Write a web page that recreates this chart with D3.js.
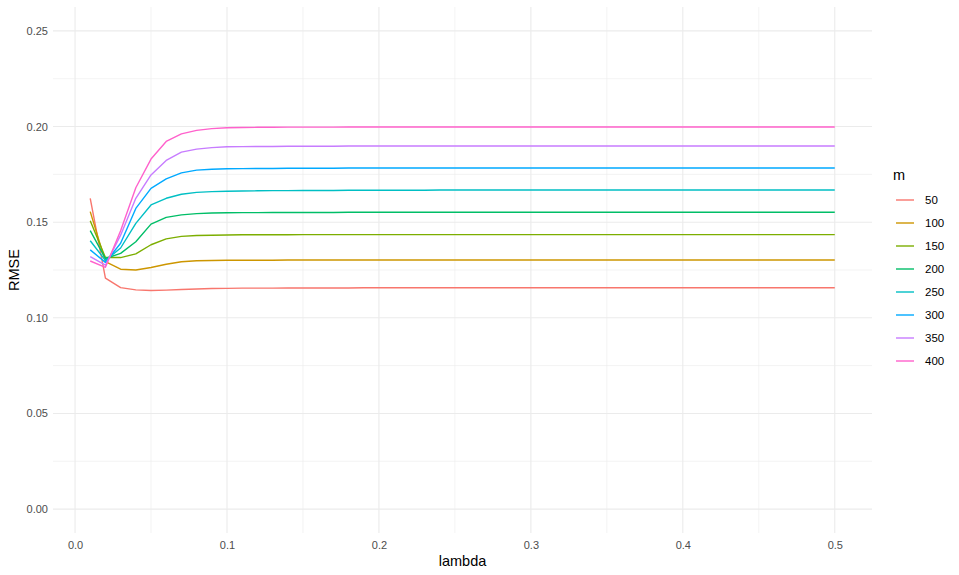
<!DOCTYPE html>
<html>
<head>
<meta charset="utf-8">
<script src="https://cdn.jsdelivr.net/npm/d3@7"></script>
<style>
  body { margin: 0; background: #fff; }
  svg { display: block; font-family: "Liberation Sans", Arial, sans-serif; }
</style>
</head>
<body>
<svg id="chart" width="959" height="575"></svg>
<script>
const lambda = [0.01,0.02,0.03,0.04,0.05,0.06,0.07,0.08,0.09,0.10,
  0.11,0.12,0.13,0.14,0.15,0.16,0.17,0.18,0.19,0.20,
  0.21,0.22,0.23,0.24,0.25,0.26,0.27,0.28,0.29,0.30,
  0.31,0.32,0.33,0.34,0.35,0.36,0.37,0.38,0.39,0.40,
  0.41,0.42,0.43,0.44,0.45,0.46,0.47,0.48,0.49,0.50];

const mLevels = ["50","100","150","200","250","300","350","400"];

const rmse50 = [0.1625,0.1208,0.1158,0.1146,0.1143,0.1145,0.1148,0.1151,0.1153,0.1154,
  0.1155,0.1155,0.1155,0.1156,0.1156,0.1156,0.1156,0.1156,0.1157,0.1157,
  0.1157,0.1157,0.1157,0.1157,0.1157,0.1157,0.1157,0.1157,0.1157,0.1157,
  0.1157,0.1157,0.1157,0.1157,0.1157,0.1157,0.1157,0.1157,0.1157,0.1157,
  0.1157,0.1157,0.1157,0.1157,0.1157,0.1157,0.1157,0.1157,0.1157,0.1157];
const rmse100 = [0.1555,0.1294,0.1254,0.1250,0.1263,0.1280,0.1293,0.1298,0.1300,0.1301,
  0.1301,0.1301,0.1301,0.1302,0.1302,0.1302,0.1302,0.1302,0.1302,0.1302,
  0.1302,0.1302,0.1302,0.1302,0.1302,0.1302,0.1302,0.1302,0.1302,0.1302,
  0.1302,0.1302,0.1302,0.1302,0.1302,0.1302,0.1302,0.1302,0.1302,0.1302,
  0.1302,0.1302,0.1302,0.1302,0.1302,0.1302,0.1302,0.1302,0.1302,0.1302];
const rmse150 = [0.1508,0.1315,0.1315,0.1334,0.1382,0.1413,0.1426,0.1430,0.1432,0.1433,
  0.1434,0.1434,0.1434,0.1434,0.1435,0.1435,0.1435,0.1435,0.1435,0.1435,
  0.1435,0.1435,0.1435,0.1435,0.1435,0.1435,0.1435,0.1435,0.1435,0.1435,
  0.1435,0.1435,0.1435,0.1435,0.1435,0.1435,0.1435,0.1435,0.1435,0.1435,
  0.1435,0.1435,0.1435,0.1435,0.1435,0.1435,0.1435,0.1435,0.1435,0.1435];
const rmse200 = [0.1456,0.1310,0.1337,0.1398,0.1490,0.1525,0.1538,0.1545,0.1548,0.1549,
  0.1550,0.1550,0.1551,0.1551,0.1551,0.1551,0.1551,0.1552,0.1552,0.1552,
  0.1552,0.1552,0.1552,0.1552,0.1552,0.1552,0.1552,0.1552,0.1552,0.1552,
  0.1552,0.1552,0.1552,0.1552,0.1552,0.1552,0.1552,0.1552,0.1552,0.1552,
  0.1552,0.1552,0.1552,0.1552,0.1552,0.1552,0.1552,0.1552,0.1552,0.1552];
const rmse250 = [0.1403,0.1300,0.1365,0.1494,0.1590,0.1625,0.1646,0.1656,0.1660,0.1662,
  0.1663,0.1664,0.1665,0.1665,0.1666,0.1666,0.1666,0.1667,0.1667,0.1667,
  0.1667,0.1667,0.1667,0.1668,0.1668,0.1668,0.1668,0.1668,0.1668,0.1668,
  0.1668,0.1668,0.1668,0.1668,0.1668,0.1668,0.1668,0.1668,0.1668,0.1668,
  0.1668,0.1668,0.1668,0.1668,0.1668,0.1668,0.1668,0.1668,0.1668,0.1668];
const rmse300 = [0.1355,0.1290,0.1390,0.1572,0.1677,0.1726,0.1758,0.1772,0.1777,0.1779,
  0.1780,0.1781,0.1781,0.1782,0.1782,0.1782,0.1782,0.1783,0.1783,0.1783,
  0.1783,0.1783,0.1783,0.1783,0.1783,0.1783,0.1783,0.1783,0.1783,0.1783,
  0.1783,0.1783,0.1783,0.1783,0.1783,0.1783,0.1783,0.1783,0.1783,0.1783,
  0.1783,0.1783,0.1783,0.1783,0.1783,0.1783,0.1783,0.1783,0.1783,0.1783];
const rmse350 = [0.1320,0.1275,0.1432,0.1625,0.1747,0.1823,0.1866,0.1882,0.1890,0.1894,
  0.1895,0.1896,0.1896,0.1897,0.1897,0.1897,0.1897,0.1898,0.1898,0.1898,
  0.1898,0.1898,0.1898,0.1898,0.1898,0.1898,0.1898,0.1898,0.1898,0.1898,
  0.1898,0.1898,0.1898,0.1898,0.1898,0.1898,0.1898,0.1898,0.1898,0.1898,
  0.1898,0.1898,0.1898,0.1898,0.1898,0.1898,0.1898,0.1898,0.1898,0.1898];
const rmse400 = [0.1297,0.1264,0.1455,0.1680,0.1830,0.1922,0.1962,0.1980,0.1989,0.1994,
  0.1995,0.1996,0.1996,0.1997,0.1997,0.1997,0.1997,0.1998,0.1998,0.1998,
  0.1998,0.1998,0.1998,0.1998,0.1998,0.1998,0.1998,0.1998,0.1998,0.1998,
  0.1998,0.1998,0.1998,0.1998,0.1998,0.1998,0.1998,0.1998,0.1998,0.1998,
  0.1998,0.1998,0.1998,0.1998,0.1998,0.1998,0.1998,0.1998,0.1998,0.1998];

const xTicks = [0.0, 0.1, 0.2, 0.3, 0.4, 0.5];
const xMinor = [0.05, 0.15, 0.25, 0.35, 0.45];
const yTicks = [0.00, 0.05, 0.10, 0.15, 0.20, 0.25];
const yMinor = [0.025, 0.075, 0.125, 0.175, 0.225];
const colors = ["#F8766D","#CD9600","#7CAE00","#00BE67","#00BFC4","#00A9FF","#C77CFF","#FF61CC"];

const seriesValues = [rmse50, rmse100, rmse150, rmse200, rmse250, rmse300, rmse350, rmse400];
const series = mLevels.map((m, i) => ({
  m, color: colors[i],
  points: lambda.map((l, j) => ({ x: l, y: seriesValues[i][j] }))
}));

const svg = d3.select("#chart");
const panel = { left: 53, right: 872, top: 7, bottom: 533 };

const x = d3.scaleLinear().domain([-0.0145, 0.5245]).range([panel.left, panel.right]);
const y = d3.scaleLinear().domain([-0.0125, 0.2625]).range([panel.bottom, panel.top]);

const g = svg.append("g");

// minor grid
g.selectAll(".xminor").data(xMinor).enter().append("line")
  .attr("x1", d => x(d)).attr("x2", d => x(d))
  .attr("y1", panel.top).attr("y2", panel.bottom)
  .attr("stroke", "#EBEBEB").attr("stroke-width", 0.6);
g.selectAll(".yminor").data(yMinor).enter().append("line")
  .attr("y1", d => y(d)).attr("y2", d => y(d))
  .attr("x1", panel.left).attr("x2", panel.right)
  .attr("stroke", "#EBEBEB").attr("stroke-width", 0.6);
// major grid
g.selectAll(".xmajor").data(xTicks).enter().append("line")
  .attr("x1", d => x(d)).attr("x2", d => x(d))
  .attr("y1", panel.top).attr("y2", panel.bottom)
  .attr("stroke", "#EBEBEB").attr("stroke-width", 1.1);
g.selectAll(".ymajor").data(yTicks).enter().append("line")
  .attr("y1", d => y(d)).attr("y2", d => y(d))
  .attr("x1", panel.left).attr("x2", panel.right)
  .attr("stroke", "#EBEBEB").attr("stroke-width", 1.1);

// axes (labels only)
const xAxis = d3.axisBottom(x).tickValues(xTicks).tickFormat(d3.format(".1f")).tickSize(0).tickPadding(8);
const xg = svg.append("g").attr("transform", `translate(0,${panel.bottom})`).call(xAxis);
const yAxis = d3.axisLeft(y).tickValues(yTicks).tickFormat(d3.format(".2f")).tickSize(0).tickPadding(5);
const yg = svg.append("g").attr("transform", `translate(${panel.left},0)`).call(yAxis);
[xg, yg].forEach(a => {
  a.select(".domain").remove();
  a.selectAll("text").attr("fill", "#4D4D4D").style("font-size", "11px")
    .style("font-family", "'Liberation Sans', Arial, sans-serif");
});

// lines
const line = d3.line().x(d => x(d.x)).y(d => y(d.y));
svg.append("g").selectAll("path").data(series).enter().append("path")
  .attr("d", d => line(d.points))
  .attr("fill", "none")
  .attr("stroke", d => d.color)
  .attr("stroke-width", 1.4)
  .attr("stroke-linejoin", "round")
  .attr("stroke-linecap", "butt");

// axis titles
svg.append("text").attr("x", (panel.left + panel.right) / 2).attr("y", 566)
  .attr("text-anchor", "middle").attr("fill", "#000").style("font-size", "14.5px").text("lambda");
svg.append("text").attr("transform", `translate(19,${(panel.top + panel.bottom) / 2}) rotate(-90)`)
  .attr("text-anchor", "middle").attr("fill", "#000").style("font-size", "14.5px").text("RMSE");

// legend
const lg = svg.append("g");
lg.append("text").attr("x", 893).attr("y", 180).attr("fill", "#000").style("font-size", "14.5px").text("m");
const ly = d3.scalePoint().domain(mLevels).range([200, 361]);
const items = lg.selectAll(".item").data(series).enter().append("g");
items.append("line")
  .attr("x1", 896).attr("x2", 914)
  .attr("y1", d => ly(d.m)).attr("y2", d => ly(d.m))
  .attr("stroke", d => d.color).attr("stroke-width", 1.4);
items.append("text")
  .attr("x", 925).attr("y", d => ly(d.m)).attr("dy", "0.35em")
  .attr("fill", "#000").style("font-size", "11.5px").text(d => d.m);
</script>
</body>
</html>
